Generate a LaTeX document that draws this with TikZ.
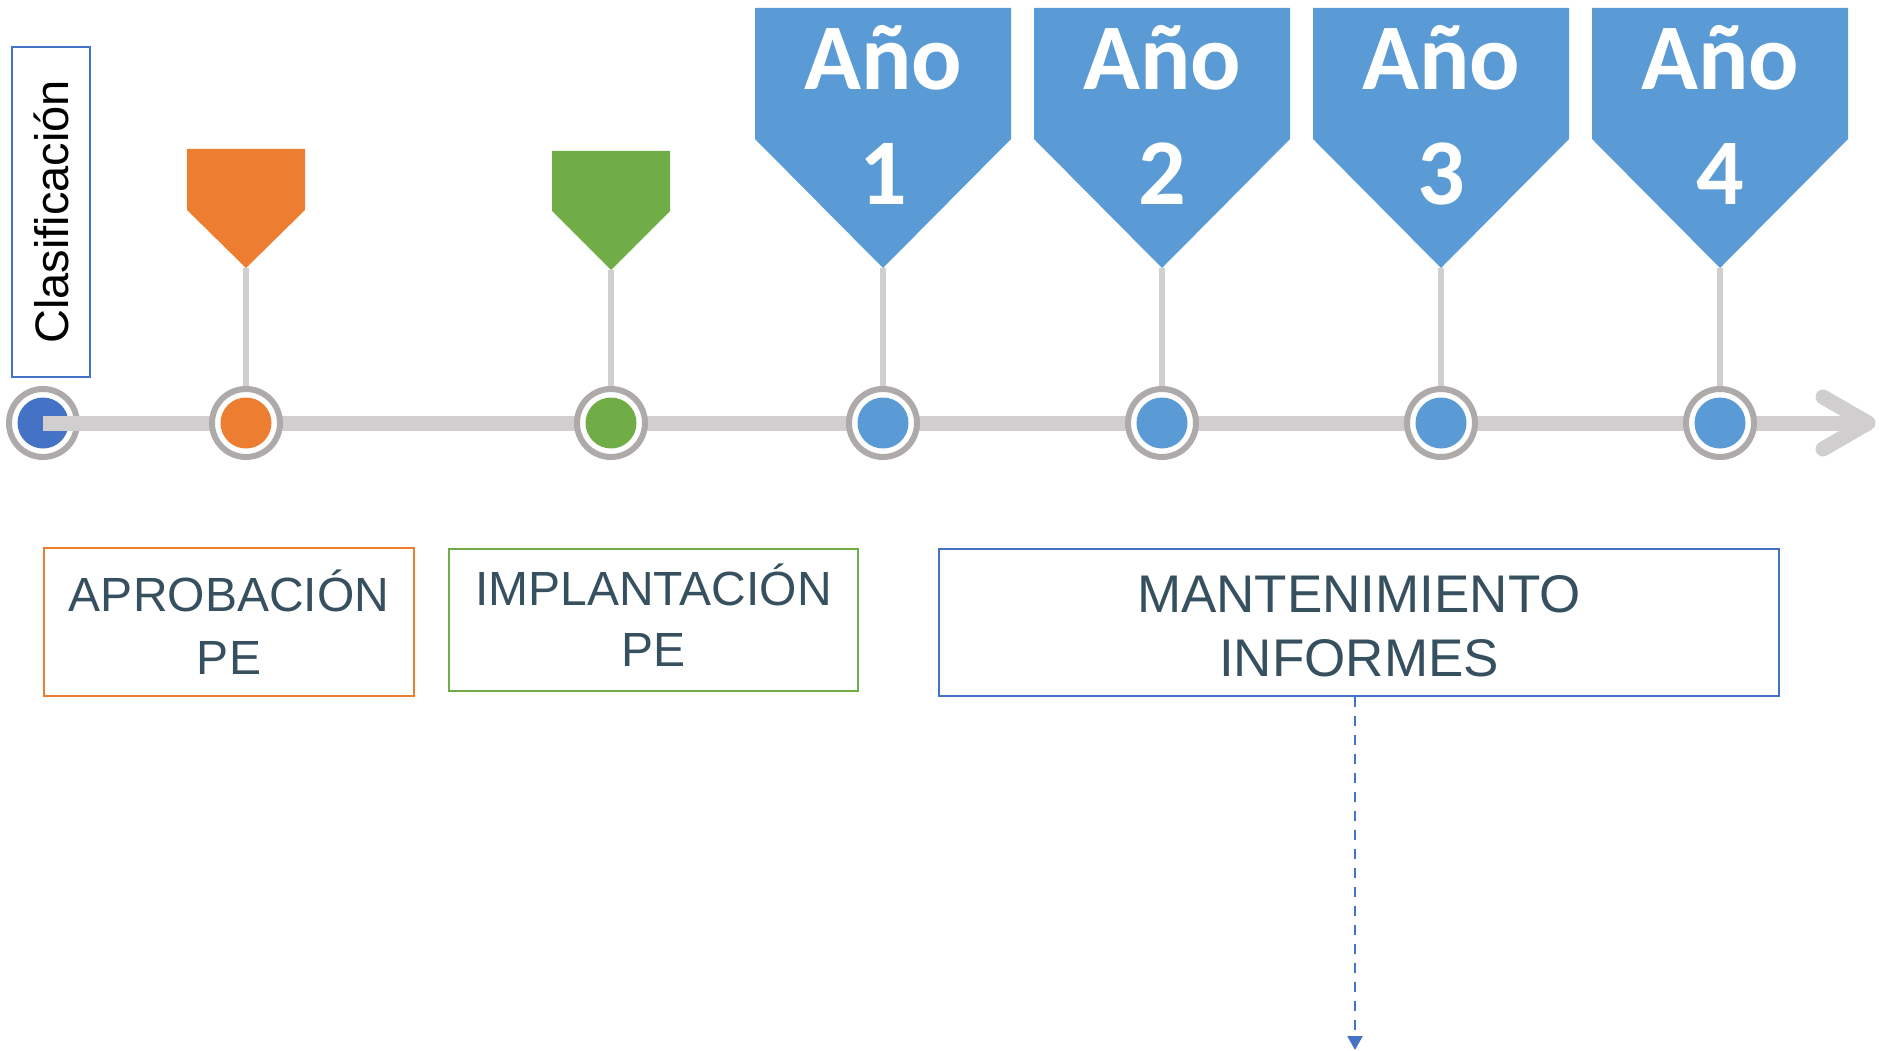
\documentclass[tikz,border=0pt]{standalone}
\usepackage{fontspec}
\setmainfont{Liberation Sans}
\newfontfamily\anofont{Carlito}[BoldFont={* Bold}]
\usetikzlibrary{arrows.meta}
\definecolor{mkblue}{HTML}{5B9BD5}
\definecolor{dkblue}{HTML}{4472C4}
\definecolor{mkorange}{HTML}{ED7D31}
\definecolor{mkgreen}{HTML}{70AD47}
\definecolor{tlgray}{HTML}{D0CECE}
\definecolor{ringgray}{HTML}{AEAAAA}
\definecolor{txtslate}{HTML}{36505F}
\begin{document}
\begin{tikzpicture}[x=1pt,y=-1pt,
  ring/.style={circle,draw=ringgray,line width=6pt,fill=white,minimum size=68pt,inner sep=0pt},
  dot/.style={circle,fill=#1,minimum size=51pt,inner sep=0pt},
  stemline/.style={draw=tlgray,line width=6pt},
  timeline/.style={draw=tlgray,line width=15pt},
  pent/.style={fill=#1,draw=none},
  anotext/.style={text=white,font={\anofont\bfseries\fontsize{94}{110}\selectfont},anchor=base,inner sep=0pt},
  boxframe/.style={draw=#1,line width=2pt,inner sep=0pt},
  boxtext/.style={text=txtslate,font=\fontsize{48}{58}\selectfont,anchor=base,inner sep=0pt},
  bigboxtext/.style={text=txtslate,font=\fontsize{53}{64}\selectfont,anchor=base,inner sep=0pt}
]
\useasboundingbox (0,0) rectangle (1879,1051);

% Clasificacion box
\node[boxframe=dkblue,minimum width=78pt,minimum height=330pt] (clasbox) at (51,212) {};
\node[rotate=90,font=\fontsize{47}{56}\selectfont,text=black,inner sep=0pt] (clastext) at (clasbox.center) {Clasificación};

% pentagons
\fill[pent=mkorange] (187,149) -- (305,149) -- (305,210) -- (246,268) -- (187,210) -- cycle;
\coordinate (tipA) at (246,268);
\fill[pent=mkgreen] (552,151) -- (670,151) -- (670,211) -- (611,270) -- (552,211) -- cycle;
\coordinate (tipB) at (611,270);
\foreach \i/\cx in {1/883,2/1162,3/1441,4/1720}{
  \fill[pent=mkblue] (\cx-128,8) -- (\cx+128,8) -- (\cx+128,139) -- (\cx,268) -- (\cx-128,139) -- cycle;
  \coordinate (tipY\i) at (\cx,268);
  \node[anotext] (ano\i) at (\cx,90) {Año};
  \node[anotext] (num\i) at (\cx,205) {\i};
}

% circle coordinates
\coordinate (pA) at (246,423);
\coordinate (pB) at (611,423);
\coordinate (pY1) at (883,423);
\coordinate (pY2) at (1162,423);
\coordinate (pY3) at (1441,423);
\coordinate (pY4) at (1720,423);

% stems
\draw[stemline] (tipA) -- (pA);
\draw[stemline] (tipB) -- (pB);
\foreach \i in {1,2,3,4}{\draw[stemline] (tipY\i) -- (pY\i);}

% first circle (under the line)
\node[ring] (c0) at (43,423) {};
\node[dot=dkblue] (d0) at (c0) {};

% timeline and arrow head
\coordinate (tlend) at (1868,423);
\coordinate (armtop) at (1823,397);
\coordinate (armbot) at (1823,449);
\draw[timeline] (d0.center) -- (tlend);
\draw[timeline,line cap=round,line join=round] (armtop) -- (tlend) -- (armbot);

% other circles
\node[ring] (cA) at (pA) {};
\node[dot=mkorange] (dA) at (cA) {};
\node[ring] (cB) at (pB) {};
\node[dot=mkgreen] (dB) at (cB) {};
\foreach \i in {1,2,3,4}{
  \node[ring] (cY\i) at (pY\i) {};
  \node[dot=mkblue] (dY\i) at (cY\i) {};
}

% boxes
\node[boxframe=mkorange,minimum width=370pt,minimum height=148pt] (apro) at (229,622) {};
\node[boxtext] (aproA) at (229,611) {APROBACIÓN};
\node[boxtext] (aproB) at (229,674) {PE};

\node[boxframe=mkgreen,minimum width=409pt,minimum height=142pt] (impl) at (653.5,620) {};
\node[boxtext] (implA) at (653.5,605) {IMPLANTACIÓN};
\node[boxtext] (implB) at (653.5,666) {PE};

\node[boxframe=dkblue,minimum width=840pt,minimum height=147pt] (mant) at (1359,622.5) {};
\node[bigboxtext] (mantA) at (1359,612) {MANTENIMIENTO};
\node[bigboxtext] (mantB) at (1359,676) {INFORMES};

% dashed arrow
\coordinate (dend) at (1355,1050);
\draw[draw=dkblue,line width=2.5pt,dash pattern=on 10pt off 9pt,-{Triangle[width=15pt,length=14pt]}] (mant.south -| dend) -- (dend);
\end{tikzpicture}
\end{document}
